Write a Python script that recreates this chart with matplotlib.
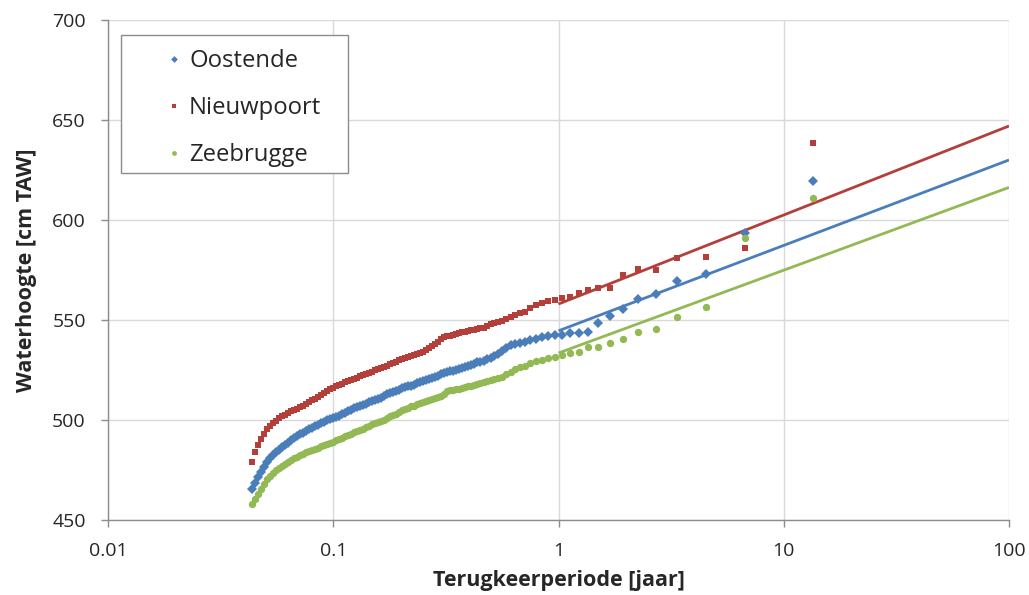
import matplotlib
matplotlib.use("Agg")
import matplotlib.pyplot as plt
from matplotlib.patches import Rectangle

# Return periods [jaar] (shared by all stations)
periods = [13.5, 6.75, 4.5, 3.375, 2.7, 2.25, 1.929, 1.6875, 1.5, 1.35, 1.227, 1.125, 1.038,
           0.964, 0.9, 0.844, 0.794, 0.75, 0.711, 0.675, 0.643, 0.614, 0.587, 0.5625, 0.54,
           0.519, 0.5, 0.482, 0.466, 0.45,
           0.4365, 0.4232, 0.4105, 0.3981, 0.3861, 0.3745, 0.3631, 0.3522, 0.3415, 0.3311,
           0.3211, 0.3114, 0.3020, 0.2929, 0.2840, 0.2754, 0.2671, 0.2590, 0.2512, 0.2436,
           0.2362, 0.2291, 0.2222, 0.2154, 0.2089, 0.2026, 0.1965, 0.1905, 0.1848, 0.1792,
           0.1738, 0.1685, 0.1634, 0.1585, 0.1537, 0.1491, 0.1445, 0.1402, 0.1359, 0.1318,
           0.1278, 0.1240, 0.1202, 0.1166, 0.1131, 0.1096, 0.1063, 0.1031, 0.1000, 0.0970,
           0.0940, 0.0912, 0.0885, 0.0858, 0.0832, 0.0807, 0.0782, 0.0759, 0.0736, 0.0713,
           0.0692, 0.0671, 0.0651, 0.0631, 0.0612, 0.0593, 0.0575, 0.0558, 0.0541, 0.0525,
           0.0509, 0.0494, 0.0479, 0.0464, 0.0450, 0.0437]

oostende = [619.5, 593.7, 573.0, 569.3, 563.2, 560.7, 555.4, 552.0, 548.3, 544.2, 543.5, 543.5, 542.5,
            542.5, 542.0, 541.5, 540.5, 540.0, 539.0, 538.3, 538.0, 537.5, 536.0, 534.5, 533.0,
            532.0, 531.0, 530.5, 529.5, 529.2,
            528.8, 528.2, 527.6, 527.0, 526.6, 526.1, 525.6, 525.2, 524.7, 524.3,
            524.0, 523.4, 522.8, 522.2, 521.6, 521.0, 520.4, 519.9, 519.4, 518.9,
            518.3, 517.7, 517.2, 516.8, 516.3, 515.8, 515.1, 514.6, 514.0, 513.4,
            512.8, 512.0, 511.2, 510.6, 510.0, 509.4, 508.8, 508.2, 507.5, 507.0,
            506.4, 505.8, 505.2, 504.4, 503.6, 502.8, 502.0, 501.3, 500.8, 500.3,
            499.8, 499.0, 498.3, 497.6, 497.0, 496.2, 495.3, 494.5, 493.6, 492.8,
            492.0, 491.0, 489.8, 488.6, 487.5, 486.3, 485.2, 484.0, 482.6, 480.8,
            479.0, 476.6, 474.2, 471.4, 468.5, 465.5]

nieuwpoort = [638.3, 586.2, 581.3, 581.0, 575.2, 575.3, 572.5, 566.0, 565.8, 565.0, 563.3, 561.7, 560.8,
              560.0, 559.5, 558.3, 557.5, 555.8, 554.2, 553.5, 552.5, 551.7, 550.5, 549.5, 549.0,
              548.3, 548.0, 547.0, 546.2, 545.8,
              545.5, 545.0, 544.8, 544.5, 544.2, 544.0, 543.5, 543.2, 542.7, 542.2,
              541.8, 541.3, 540.3, 539.0, 538.0, 537.0, 536.2, 535.0, 534.2, 533.5,
              532.8, 532.3, 531.8, 531.3, 531.0, 530.5, 530.0, 529.2, 528.4, 527.8,
              527.2, 526.6, 526.0, 525.4, 524.8, 524.2, 523.5, 523.0, 522.5, 521.8,
              521.2, 520.6, 520.0, 519.5, 518.8, 518.0, 517.3, 516.8, 516.2, 515.5,
              514.5, 513.5, 512.5, 511.5, 510.6, 509.8, 508.8, 507.8, 507.0, 506.3,
              505.6, 505.0, 504.3, 503.5, 502.6, 501.8, 500.8, 499.6, 498.3, 496.8,
              495.3, 493.2, 490.5, 487.5, 484.0, 479.0]

zeebrugge = [610.8, 590.8, 556.7, 551.3, 545.3, 544.2, 540.3, 538.3, 536.4, 536.7, 533.8, 533.3, 532.5,
             531.5, 531.0, 530.0, 529.5, 528.3, 527.0, 526.5, 525.5, 524.2, 523.0, 521.5, 521.0,
             520.3, 519.8, 519.5, 519.0, 518.3,
             518.0, 517.6, 517.2, 516.8, 516.4, 516.0, 515.7, 515.4, 515.1, 514.8,
             514.3, 513.0, 512.0, 511.5, 511.0, 510.6, 510.2, 509.6, 509.0, 508.4,
             507.8, 507.2, 506.8, 506.2, 505.5, 504.8, 504.0, 503.2, 502.4, 501.8,
             501.0, 500.2, 499.6, 499.0, 498.4, 497.8, 497.0, 496.4, 495.6, 495.0,
             494.4, 493.8, 493.2, 492.6, 492.0, 491.2, 490.4, 489.8, 489.2, 488.6,
             488.0, 487.4, 486.8, 486.2, 485.6, 485.0, 484.5, 483.9, 483.2, 482.4,
             481.6, 480.8, 479.8, 478.9, 478.0, 477.0, 476.0, 475.0, 473.5, 472.0,
             470.3, 468.0, 465.5, 463.0, 460.5, 458.0]

# Fitted trend lines: water level at the start and end of the fit range
fit_T = [1.0, 100.0]
fit_oostende = [544.6, 630.0]
fit_nieuwpoort = [558.0, 647.0]
fit_zeebrugge = [533.5, 616.3]

c_blue = "#4a7ebb"
c_red = "#b43e3a"
c_green = "#92b954"
txt = "#262626"

plt.rcParams['font.family'] = ['Open Sans', 'DejaVu Sans']

fig = plt.figure(figsize=(10.29, 5.95), dpi=100)
ax = fig.add_axes([108/1029, 1 - 520/595, (1009-108)/1029, 500/595])

ax.plot(fit_T, fit_nieuwpoort, color=c_red, lw=2.0, zorder=2, solid_capstyle='butt')
ax.plot(fit_T, fit_oostende, color=c_blue, lw=2.0, zorder=2, solid_capstyle='butt')
ax.plot(fit_T, fit_zeebrugge, color=c_green, lw=2.0, zorder=2, solid_capstyle='butt')

h1, = ax.plot(periods, oostende, linestyle='none', marker='D', ms=5.3, mew=0, color=c_blue, label='Oostende', zorder=3)
h2, = ax.plot(periods, nieuwpoort, linestyle='none', marker='s', ms=5.0, mew=0, color=c_red, label='Nieuwpoort', zorder=3)
h3, = ax.plot(periods, zeebrugge, linestyle='none', marker='o', ms=5.3, mew=0, color=c_green, label='Zeebrugge', zorder=3)

ax.set_xscale('log')
ax.set_xlim(0.01, 100)
ax.set_ylim(450, 700)
ax.set_xticks([0.01, 0.1, 1, 10, 100])
ax.set_xticklabels(['0.01', '0.1', '1', '10', '100'])
ax.xaxis.set_minor_locator(matplotlib.ticker.NullLocator())
ax.set_yticks([450, 500, 550, 600, 650, 700])

ax.grid(True, which='major', color='#d9d9d9', lw=1.0)
ax.set_axisbelow(True)
for s in ['top', 'right']:
    ax.spines[s].set_visible(False)
for s in ['left', 'bottom']:
    ax.spines[s].set_color('#8c8c8c')
    ax.spines[s].set_linewidth(1.0)

ax.tick_params(axis='both', which='major', labelsize=14, colors='#8c8c8c',
               labelcolor=txt, length=5, width=1.0)
ax.tick_params(axis='x', pad=11)
ax.tick_params(axis='y', pad=11)

ax.set_xlabel('Terugkeerperiode [jaar]', fontsize=15.5, fontweight='bold', color=txt, labelpad=7)
ax.set_ylabel('Waterhoogte [cm TAW]', fontsize=15.5, fontweight='bold', color=txt, labelpad=11)

# legend frame (Excel style box) and entries
frame = Rectangle((13/901, 347/500), 227/901, 138/500, transform=ax.transAxes,
                  facecolor='white', edgecolor='#8c8c8c', lw=1.0, zorder=5)
ax.add_patch(frame)
leg = ax.legend(handles=[h1, h2, h3], loc='upper left',
                bbox_to_anchor=(56/901, (520-49)/500), fontsize=17.2,
                frameon=False, markerscale=0.65, handlelength=0.8, handletextpad=0.25,
                labelspacing=0.97, borderpad=0, borderaxespad=0)
leg.set_zorder(6)
for t in leg.get_texts():
    t.set_color(txt)

fig.savefig('out.png', dpi=100)
